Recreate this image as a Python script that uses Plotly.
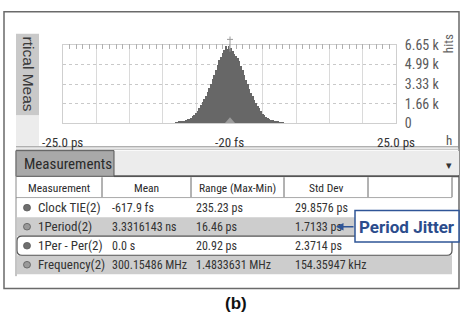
import plotly.graph_objects as go

W, H = 461, 326

# ---------------- data ----------------
bin_centers = [i * 0.25 - 8.0 for i in range(65)]  # ps
hits = [25, 55, 90, 125, 165, 205, 255, 305, 360, 455, 570, 700, 830, 1040, 1280, 1530,
        1780, 2050, 2330, 2630, 2980, 3330, 3720, 4110, 4520, 4930, 5330, 5620, 5950,
        6250, 6550, 6300, 6600, 6400, 6150, 5900, 5750, 5550, 5250, 4890, 4480, 4070,
        3680, 3290, 2940, 2580, 2270, 1990, 1740, 1490, 1240, 1000, 790, 660, 545, 440,
        350, 295, 245, 195, 155, 115, 80, 45, 20]
y_ticks = [0, 1660, 3330, 4990, 6650]
y_tick_labels = ["0", "1.66 k", "3.33 k", "4.99 k", "6.65 k"]
x_label_pos = [-25, 0, 25]
x_labels = ["-25.0 ps", "-20 fs", "25.0 ps"]

headers = ["Measurement", "Mean", "Range (Max-Min)", "Std Dev", ""]
names = ["Clock TIE(2)", "1Period(2)", "1Per - Per(2)", "Frequency(2)"]
means = ["-617.9 fs", "3.3316143 ns", "0.0 s", "300.15486 MHz"]
ranges = ["235.23 ps", "16.46 ps", "20.92 ps", "1.4833631 MHz"]
stds = ["29.8576 ps", "1.7133 ps", "2.3714 ps", "154.35947 kHz"]
callout = "Period Jitter"
caption = "(b)"

# ---------------- helpers ----------------
def PX(x):
    return x / W

def PY(y):
    return 1 - y / H

NARROW = "Roboto Condensed, Liberation Sans Narrow, Arial Narrow, sans-serif"
SANS = "Liberation Sans, Arial, sans-serif"

shapes = []
annotations = []

def rect(x0, y0, x1, y1, fill="rgba(0,0,0,0)", line=None, lw=1):
    shapes.append(dict(type="rect", xref="paper", yref="paper",
                       x0=PX(x0), x1=PX(x1), y0=PY(y1), y1=PY(y0),
                       fillcolor=fill,
                       line=dict(color=line if line else "rgba(0,0,0,0)", width=lw if line else 0)))

def hline(x0, x1, y, color, lw=1):
    shapes.append(dict(type="line", xref="paper", yref="paper",
                       x0=PX(x0), x1=PX(x1), y0=PY(y), y1=PY(y),
                       line=dict(color=color, width=lw)))

def vline(x, y0, y1, color, lw=1):
    shapes.append(dict(type="line", xref="paper", yref="paper",
                       x0=PX(x), x1=PX(x), y0=PY(y0), y1=PY(y1),
                       line=dict(color=color, width=lw)))

def text(x, y, s, size=12, color="#333333", family=NARROW, xanchor="left", angle=0, bold=False):
    annotations.append(dict(x=PX(x), y=PY(y), xref="paper", yref="paper", text=s,
                            showarrow=False, xanchor=xanchor, yanchor="middle",
                            textangle=angle,
                            font=dict(size=size, color=color, family=family,
                                      weight="bold" if bold else "normal")))

# ---------------- figure / histogram ----------------
fig = go.Figure()
fig.add_trace(go.Bar(x=bin_centers, y=hits, width=0.25,
                     marker=dict(color="#676767", line=dict(width=0))))
fig.add_trace(go.Scatter(x=[-25, 25], y=[6650, 6650], xaxis="x2", yaxis="y",
                         mode="lines", line=dict(color="rgba(0,0,0,0)"), hoverinfo="skip"))

xdom = [PX(63), PX(396)]
ydom = [PY(121), PY(39)]

fig.update_layout(
    width=W, height=H, autosize=False,
    margin=dict(l=0, r=0, t=0, b=0),
    paper_bgcolor="white", plot_bgcolor="white",
    showlegend=False, bargap=0,
    xaxis=dict(domain=xdom, range=[-25, 25], dtick=5, tick0=-25,
               showgrid=True, gridcolor="#dadada", gridwidth=1,
               showticklabels=False, zeroline=False,
               showline=True, linecolor="#cfcfcf", linewidth=1, mirror=True),
    xaxis2=dict(domain=xdom, range=[-25, 25], overlaying="x", side="top",
                anchor="free", position=PY(36.5), showgrid=False, showticklabels=False,
                ticks="inside", ticklen=5, tickcolor="#b0b0b0", dtick=1, tick0=-25,
                zeroline=False, showline=False),
    yaxis=dict(domain=ydom, range=[0, 6650], side="right",
               tickvals=y_ticks, ticktext=y_tick_labels,
               showgrid=True, gridcolor="#c9c9c9", griddash="dot", gridwidth=1,
               zeroline=False, showline=True, linecolor="#cfcfcf", mirror=True,
               ticklabelstandoff=5,
               tickfont=dict(size=14, color="#5a5a5a", family=NARROW)),
)

# x labels under histogram
for pos, lab in zip(x_label_pos, x_labels):
    annotations.append(dict(x=pos, y=PY(141), xref="x", yref="paper", text=lab,
                            showarrow=False, xanchor="center", yanchor="middle",
                            font=dict(size=13, color="#333333", family=NARROW)))
text(449, 139, "h", size=13, color="#555555", xanchor="center")
text(448, 38, "hits", size=13, color="#666666", xanchor="center", angle=-90)

# trigger marker at top and small triangle at baseline
vline(230, 30, 46, "#9a9a9a", 1)
hline(227, 233, 33, "#9a9a9a", 1)
shapes.append(dict(type="path", xref="paper", yref="paper",
                   path=f"M {PX(225)} {PY(121)} L {PX(235)} {PY(121)} L {PX(230)} {PY(115)} Z",
                   fillcolor="#9c9c9c", line=dict(width=0)))

# outer frame
rect(4, 4, 459, 295, line="#6a6a6a", lw=1.5)
# vertical tab
rect(16, 27, 39, 113, fill="#c9c9c9")
text(28, 69, "rtical Meas", size=15.5, color="#3a3a3a", xanchor="center", angle=90, family=SANS)
rect(16, 113, 39, 145, fill="#ececec")
# separator under histogram panel
hline(16, 459, 146, "#8a8a8a", 1)
hline(16, 459, 148.5, "#b5b5b5", 1)

# measurements tab bar
rect(114, 150, 459, 176, fill="#ececec")
rect(16, 150, 114, 177, fill="#a9a9a9", line="#555555", lw=1)
text(22, 164, "Measurements", size=15, color="#2a2a2a", family=NARROW)
text(449, 165, "▾", size=11, color="#333333", xanchor="center", family=SANS)
hline(114, 459, 177, "#555555", 2)

# header row
col_edges = [16, 102, 191, 284, 368, 452]
rect(16, 178, 452, 199, fill="white")
for i, h in enumerate(headers):
    cx = (col_edges[i] + col_edges[i + 1]) / 2
    if h:
        text(cx, 189.5, h, size=11.5, color="#2a2a2a", xanchor="center")
for x in col_edges[1:]:
    vline(x, 178, 199, "#666666", 1)
hline(16, 452, 199.5, "#9a9a9a", 1)

# data rows
row_fill = ["white", "#cdcdcd", "white", "#cdcdcd"]
icon_fill = ["#6e6e6e", "#9a9a9a", "#6e6e6e", "#9a9a9a"]
for i in range(len(names)):
    y0 = 200 + 20 * i
    y1 = y0 + 20
    yc = y0 + 10
    rect(17, y0, 452, y1, fill=row_fill[i])
    shapes.append(dict(type="circle", xref="paper", yref="paper",
                       x0=PX(23.5), x1=PX(30.5), y0=PY(yc + 3.5), y1=PY(yc - 3.5),
                       fillcolor=icon_fill[i], line=dict(color="#5a5a5a", width=0.8)))
    text(36, yc, names[i], size=13)
    text(110, yc, means[i], size=12)
    text(194, yc, ranges[i], size=12)
    text(293, yc, stds[i], size=12)

# selected row rounded outline (row 3)
def rounded(x0, y0, x1, y1, r):
    X0, X1 = PX(x0), PX(x1)
    Y0, Y1 = PY(y0), PY(y1)
    rx, ry = r / W, r / H
    return (f"M {X0+rx} {Y0} L {X1-rx} {Y0} Q {X1} {Y0} {X1} {Y0-ry} "
            f"L {X1} {Y1+ry} Q {X1} {Y1} {X1-rx} {Y1} L {X0+rx} {Y1} "
            f"Q {X0} {Y1} {X0} {Y1+ry} L {X0} {Y0-ry} Q {X0} {Y0} {X0+rx} {Y0} Z")

shapes.append(dict(type="path", xref="paper", yref="paper",
                   path=rounded(17, 240, 452, 260, 5),
                   fillcolor="rgba(0,0,0,0)", line=dict(color="#555555", width=1.2)))
# table left border
vline(16, 150, 282, "#8a8a8a", 1)

# callout
rect(355, 213, 459, 246, fill="white", line="#2f5597", lw=1.5)
text(407, 230, callout, size=17, color="#2b4c8c", xanchor="center",
     family="Roboto, Arial, sans-serif", bold=True)
annotations.append(dict(x=PX(336), y=PY(230), xref="paper", yref="paper", text="",
                        showarrow=True, ax=19, ay=0, arrowhead=2, arrowsize=1,
                        arrowwidth=1.5, arrowcolor="#2f5597"))

# caption
text(236, 311, caption, size=17, color="#111111", xanchor="center", family=SANS, bold=True)

fig.update_layout(shapes=shapes, annotations=annotations)
fig.write_html("out.html")
